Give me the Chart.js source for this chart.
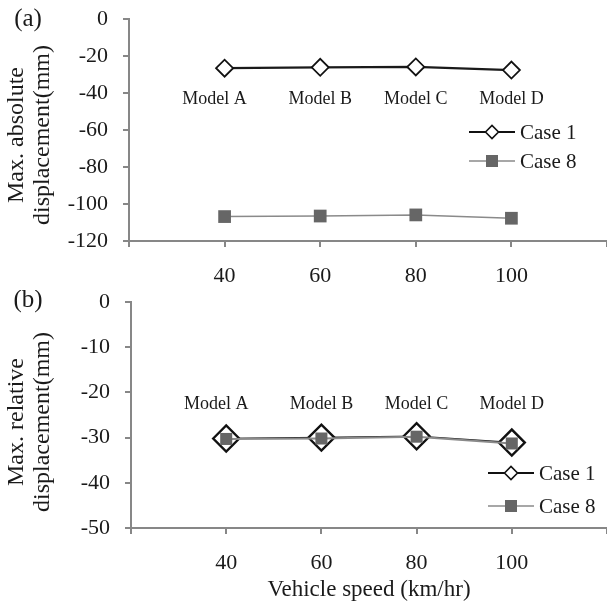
<!DOCTYPE html>
<html>
<head>
<meta charset="utf-8">
<script src="https://cdn.jsdelivr.net/npm/chart.js@4.4.1/dist/chart.umd.min.js"></script>
<style>
  html, body { margin: 0; padding: 0; background: #fff; overflow: hidden; }
  #wrap { position: relative; width: 607px; height: 605px; }
  canvas { position: absolute; left: 0; }
  #chartA { top: 0; }
  #chartB { top: 290px; }
</style>
</head>
<body>
<div id="wrap">
  <canvas id="chartA" width="607" height="290"></canvas>
  <canvas id="chartB" width="607" height="315"></canvas>
</div>
<script>
// data
const speeds = [40, 60, 80, 100];
const models = ['Model A', 'Model B', 'Model C', 'Model D'];
const absCase1 = [-26.6, -26.1, -25.9, -27.6];
const absCase8 = [-106.8, -106.5, -105.9, -107.7];
const relCase1 = [-30.2, -30.0, -29.7, -31.1];
const relCase8 = [-30.3, -30.2, -29.8, -31.3];
const xTickValues = [20, 40, 60, 80, 100, 120];
const xTickLabels = ['', '40', '60', '80', '100', ''];
const seriesNames = ['Case 1', 'Case 8'];

const FONT = '"Liberation Serif", Tinos, "Times New Roman", serif';
const AXIS = '#878787';
const TEXT = '#1a1a1a';

function toPoints(ys) {
  return speeds.map((x, i) => ({ x: x, y: ys[i] }));
}

function drawDiamond(ctx, x, y, r, lw) {
  ctx.beginPath();
  ctx.moveTo(x - r, y);
  ctx.lineTo(x, y - r);
  ctx.lineTo(x + r, y);
  ctx.lineTo(x, y + r);
  ctx.closePath();
  ctx.fillStyle = '#fff';
  ctx.fill();
  ctx.lineWidth = lw;
  ctx.strokeStyle = '#111';
  ctx.stroke();
}

// annotations: panel letter, y title, model names, legend
const decor = {
  id: 'decor',
  afterDraw(chart, args, o) {
    const ctx = chart.ctx;
    const xs = chart.scales.x, ys = chart.scales.y;
    ctx.save();
    ctx.fillStyle = TEXT;
    ctx.textAlign = 'center';
    ctx.textBaseline = 'middle';

    ctx.font = '25px ' + FONT;
    ctx.fillText(o.letter, 28, o.letterY);

    ctx.font = '24px ' + FONT;
    ctx.save();
    ctx.translate(30, o.titleY);
    ctx.rotate(-Math.PI / 2);
    ctx.fillText(o.title[0], 0, -13);
    ctx.fillText(o.title[1], 0, 13);
    ctx.restore();

    ctx.font = '18px ' + FONT;
    models.forEach((m, i) => {
      ctx.fillText(m, xs.getPixelForValue(speeds[i]) + o.labelShift[i], ys.getPixelForValue(o.labelAt));
    });

    if (o.xTitle) {
      ctx.font = '23px ' + FONT;
      ctx.fillText(o.xTitle, (chart.chartArea.left + chart.chartArea.right) / 2, o.xTitleY);
    }

    // legend
    const lg = o.legend;
    ctx.font = '21px ' + FONT;
    ctx.textAlign = 'left';
    // Case 1
    ctx.strokeStyle = '#111';
    ctx.lineWidth = 2;
    ctx.beginPath();
    ctx.moveTo(lg.x, lg.y1);
    ctx.lineTo(lg.x + 46, lg.y1);
    ctx.stroke();
    drawDiamond(ctx, lg.x + 23, lg.y1, 6.5, 1.6);
    ctx.fillStyle = TEXT;
    ctx.fillText(seriesNames[0], lg.x + 51, lg.y1 + 1);
    // Case 8
    ctx.strokeStyle = '#8a8a8a';
    ctx.lineWidth = 1.5;
    ctx.beginPath();
    ctx.moveTo(lg.x, lg.y2);
    ctx.lineTo(lg.x + 46, lg.y2);
    ctx.stroke();
    ctx.fillStyle = '#666';
    ctx.fillRect(lg.x + 23 - 6, lg.y2 - 6, 12, 12);
    ctx.fillStyle = TEXT;
    ctx.fillText(seriesNames[1], lg.x + 51, lg.y2 + 1);
    ctx.restore();
  }
};

function makeChart(id, c) {
  return new Chart(document.getElementById(id), {
    type: 'line',
    data: {
      datasets: [{
        label: seriesNames[0],
        data: toPoints(c.case1),
        borderColor: c.line1,
        borderWidth: c.line1Width,
        pointStyle: 'rectRot',
        pointRadius: c.diamondR,
        pointBorderWidth: c.diamondLW,
        pointBorderColor: '#111',
        pointBackgroundColor: '#fff',
        order: 2
      }, {
        label: seriesNames[1],
        data: toPoints(c.case8),
        borderColor: '#8a8a8a',
        borderWidth: c.line8Width,
        pointStyle: 'rect',
        pointRadius: c.squareR,
        pointBorderWidth: 0,
        pointBackgroundColor: '#666',
        order: 1
      }]
    },
    options: {
      responsive: false,
      animation: false,
      layout: { autoPadding: false, padding: { top: c.top, right: 0, left: 0, bottom: 0 } },
      plugins: {
        legend: { display: false },
        tooltip: { enabled: false },
        decor: c.decor
      },
      scales: {
        x: {
          type: 'linear',
          min: 20,
          max: 120,
          afterBuildTicks: s => { s.ticks = xTickValues.map(v => ({ value: v })); },
          afterFit: s => { s.height = c.xHeight; s.paddingLeft = 0; s.paddingRight = 0; },
          ticks: {
            callback: (v, i) => xTickLabels[i],
            maxRotation: 0,
            autoSkip: false,
            padding: 16,
            color: TEXT,
            font: { family: FONT, size: 22 }
          },
          grid: { drawOnChartArea: false, drawTicks: true, tickLength: 6, color: AXIS, lineWidth: 2 },
          border: { color: AXIS, width: 2 }
        },
        y: {
          min: c.yMin,
          max: 0,
          ticks: {
            stepSize: c.yStep,
            padding: 15,
            color: TEXT,
            font: { family: FONT, size: 22 }
          },
          afterFit: s => { s.width = c.left; s.paddingTop = 0; s.paddingBottom = 0; },
          grid: { drawOnChartArea: false, drawTicks: true, tickLength: 6, color: AXIS, lineWidth: 2 },
          border: { color: AXIS, width: 2 }
        }
      }
    },
    plugins: [decor]
  });
}

makeChart('chartA', {
  case1: absCase1, case8: absCase8,
  line1: '#1a1a1a', line1Width: 2.2, line8Width: 1.5,
  diamondR: 8.5, diamondLW: 1.8, squareR: 9,
  yMin: -120, yStep: 20, top: 19, left: 129, xHeight: 49,
  decor: {
    letter: '(a)', letterY: 19,
    title: ['Max. absolute', 'displacement(mm)'], titleY: 135,
    labelAt: -43.5, labelShift: [-10, 0, 0, 0],
    legend: { x: 469, y1: 132, y2: 161 }
  }
});

makeChart('chartB', {
  case1: relCase1, case8: relCase8,
  line1: '#1a1a1a', line1Width: 1.5, line8Width: 2,
  diamondR: 13, diamondLW: 2.4, squareR: 8.5,
  yMin: -50, yStep: 10, top: 12, left: 131, xHeight: 77,
  decor: {
    letter: '(b)', letterY: 10,
    title: ['Max. relative', 'displacement(mm)'], titleY: 132,
    labelAt: -22.6, labelShift: [-10, 0, 0, 0],
    xTitle: 'Vehicle speed (km/hr)', xTitleY: 300,
    legend: { x: 488, y1: 183, y2: 216 }
  }
});
</script>
</body>
</html>
